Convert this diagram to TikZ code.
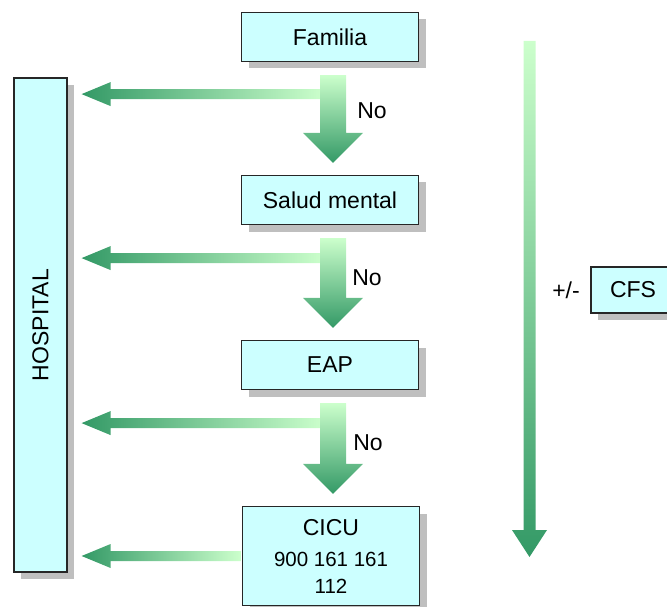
\documentclass[tikz,border=0pt]{standalone}
\usepackage{fontspec}
\setmainfont{Liberation Sans}
\usetikzlibrary{calc,shadows}
\definecolor{boxfill}{RGB}{204,255,255}
\definecolor{flowlight}{RGB}{204,255,204}
\definecolor{flowdark}{RGB}{51,153,102}
\newcommand{\numfont}{\fontsize{20.5}{24}\selectfont}
\tikzset{
  stepbox/.style={draw=black!85, line width=1.2pt, fill=boxfill, inner sep=0pt,
    font=\fontsize{23}{28}\selectfont,
    drop shadow={shadow xshift=7pt, shadow yshift=-7pt, fill=black!25, opacity=1}},
  lbl/.style={inner sep=0pt, font=\fontsize{23}{28}\selectfont},
}
% block arrow from one box down to the next
\newcommand{\flowdown}[2]{%
  \shade[top color=flowlight, bottom color=flowdark]
    let \p1=(#1.south), \p2=(#2.north) in
    (\x1-10pt,\y1-13pt) -- (\x1+16pt,\y1-13pt) -- (\x1+16pt,\y2+42pt) -- (\x1+33pt,\y2+42pt)
    -- (\x1+3pt,\y2+12pt) -- (\x1-27pt,\y2+42pt) -- (\x1-10pt,\y2+42pt) -- cycle;
}
% block arrow from a point back to a box on the left
\newcommand{\flowleft}[2]{%
  \shade[left color=flowdark, right color=flowlight]
    let \p1=(#1), \p2=(#2.east) in
    (\x1,\y1+5pt) -- (\x2+43pt,\y1+5pt) -- (\x2+43pt,\y1+12pt) -- (\x2+14pt,\y1)
    -- (\x2+43pt,\y1-12pt) -- (\x2+43pt,\y1-5pt) -- (\x1,\y1-5pt) -- cycle;
}
\begin{document}
\begin{tikzpicture}[x=1pt,y=-1pt]
  \useasboundingbox (0,0) rectangle (667,607);
  \clip (0,0) rectangle (667,607);
  %
  \node[stepbox, minimum width=53pt, minimum height=494pt] (hosp) at (40.5,325) {};
  \node[lbl, rotate=90] (hosplbl) at (hosp.center) {HOSPITAL};
  %
  \node[stepbox, minimum width=177pt, minimum height=49pt] (fam) at (330,37) {Familia};
  \node[stepbox, minimum width=177pt, minimum height=49pt] (sal) at (330,200) {Salud mental};
  \node[stepbox, minimum width=177pt, minimum height=49pt] (eap) at (330,365) {EAP};
  \node[stepbox, minimum width=177pt, minimum height=99pt, align=center] (cicu) at (331,556)
    {CICU\\[3pt]\numfont 900 161 161\\[-1pt]\numfont 112};
  %
  \node[stepbox, minimum width=84pt, minimum height=46pt] (cfs) at (633,290) {CFS};
  \node[lbl] (pm) at (566,290) {+/-};
  %
  \coordinate (j1) at ($(fam.south)+(-6,32)$);
  \coordinate (j2) at ($(sal.south)+(-6,33)$);
  \coordinate (j3) at ($(eap.south)+(-6,33)$);
  \coordinate (j4) at ($(cicu.west)+(-1,0)$);
  \flowleft{j1}{hosp}
  \flowleft{j2}{hosp}
  \flowleft{j3}{hosp}
  \flowleft{j4}{hosp}
  \flowdown{fam}{sal}
  \flowdown{sal}{eap}
  \flowdown{eap}{cicu}
  %
  \node[lbl] (no1) at (372,111) {No};
  \node[lbl] (no2) at (367,278) {No};
  \node[lbl] (no3) at (368,443) {No};
  %
  \shade[top color=flowlight, bottom color=flowdark]
    (523.5,41) -- (535.5,41) -- (535.5,530) -- (547,530) -- (529.5,557)
    -- (512,530) -- (523.5,530) -- cycle;
\end{tikzpicture}
\end{document}
